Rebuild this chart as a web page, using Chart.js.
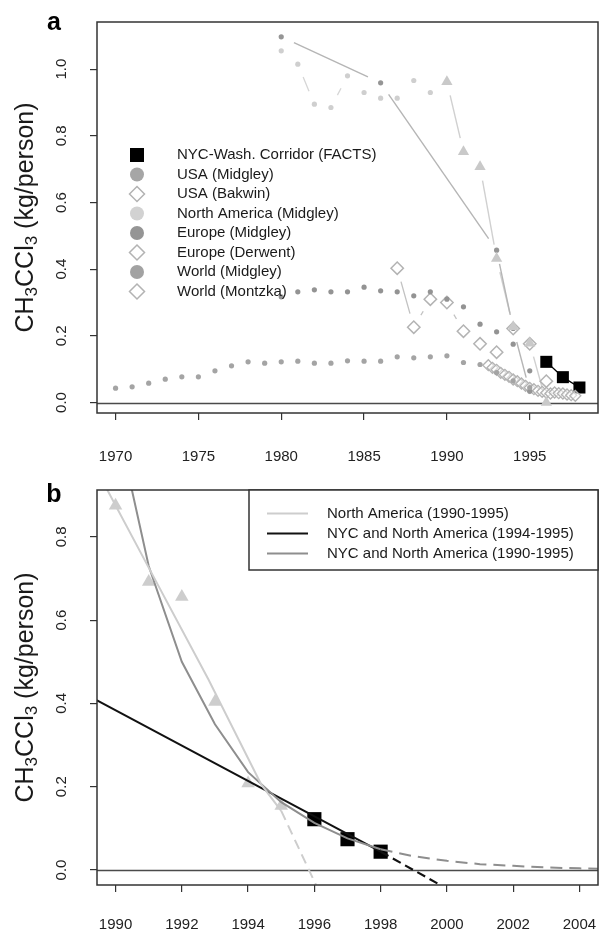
<!DOCTYPE html>
<html><head><meta charset="utf-8">
<script src="https://cdn.jsdelivr.net/npm/chart.js@4.4.0/dist/chart.umd.min.js"></script>
<style>
html,body{margin:0;padding:0;background:#fff;}
#wrap{position:relative;width:600px;height:931px;}
canvas{position:absolute;left:0;}
#ca{top:0;} #cb{top:470px;}
</style></head><body>
<div id="wrap"><canvas id="ca" width="600" height="470"></canvas><canvas id="cb" width="600" height="461"></canvas></div>
<script>
// ---- panel a data (kg/person) ----
const factsYears = [1996, 1997, 1998];
const factsA = [0.122, 0.076, 0.045];
const usaMidgleyYears = [1980, 1986, 1993, 1994, 1995];
const usaMidgley = [1.097, 0.959, 0.457, 0.222, 0.034];
const usaBakwinYears = [1994, 1995, 1996];
const usaBakwin = [0.222, 0.176, 0.064];
const naMidgleyYears = [1980, 1981, 1982, 1983, 1984, 1985, 1986, 1987, 1988, 1989];
const naMidgley = [1.055, 1.015, 0.895, 0.885, 0.98, 0.93, 0.913, 0.913, 0.966, 0.93];
const naTriYears = [1990, 1991, 1992, 1993, 1994, 1995, 1996];
const naTri = [0.962, 0.752, 0.707, 0.432, 0.227, 0.178, 0.0];
const euMidgleyYears = [1980, 1981, 1982, 1983, 1984, 1985, 1986, 1987, 1988, 1989, 1990, 1991, 1992, 1993, 1994, 1995];
const euMidgley = [0.317, 0.332, 0.338, 0.332, 0.332, 0.346, 0.335, 0.332, 0.32, 0.332, 0.31, 0.287, 0.235, 0.212, 0.175, 0.095];
const euDerwentYears = [1987, 1988, 1989, 1990, 1991, 1992, 1993];
const euDerwent = [0.403, 0.226, 0.31, 0.30, 0.214, 0.176, 0.151];
const worldMidgleyYears = [1970, 1971, 1972, 1973, 1974, 1975, 1976, 1977, 1978, 1979, 1980, 1981, 1982,
  1983, 1984, 1985, 1986, 1987, 1988, 1989, 1990, 1991, 1992, 1993, 1994, 1995];
const worldMidgley = [0.043, 0.047, 0.058, 0.07, 0.077, 0.077, 0.095, 0.11, 0.122, 0.118, 0.122, 0.124, 0.118,
  0.118, 0.125, 0.124, 0.124, 0.137, 0.134, 0.137, 0.14, 0.12, 0.114, 0.09, 0.065, 0.045];
const worldMontzkaYears = [1992.5, 1992.75, 1993, 1993.25, 1993.5, 1993.75, 1994, 1994.25, 1994.5, 1994.75, 1995,
  1995.25, 1995.5, 1995.75, 1996, 1996.25, 1996.5, 1996.75, 1997, 1997.25, 1997.5, 1997.75];
const worldMontzka = [0.112, 0.104, 0.098, 0.089, 0.083, 0.077, 0.069, 0.064, 0.057, 0.05, 0.044,
  0.04, 0.035, 0.032, 0.029, 0.027, 0.03, 0.028, 0.027, 0.024, 0.022, 0.02];
const xTicksA = [1970, 1975, 1980, 1985, 1990, 1995];
const yTicksA = [0, 0.2, 0.4, 0.6, 0.8, 1.0];

// ---- panel b data ----
const naYearsB = [1990, 1991, 1992, 1993, 1994, 1995];
const naB = [0.875, 0.692, 0.656, 0.404, 0.208, 0.154];
const factsB = [0.122, 0.074, 0.044];
const naFitYears = [1989.4, 1991.0, 1992.8, 1994.4, 1995.0];
const naFit = [0.965, 0.726, 0.458, 0.205, 0.142];
const naFitDashYears = [1995.0, 1996.05];
const naFitDash = [0.142, -0.036];
const nycShortYears = [1989.4, 1998];
const nycShort = [0.409, 0.044];
const nycShortDashYears = [1998, 1999.8];
const nycShortDash = [0.044, -0.036];
const nycLongYears = [1990, 1991, 1992, 1993, 1994, 1995, 1996, 1997, 1998];
const nycLong = [1.09, 0.73, 0.50, 0.35, 0.235, 0.163, 0.113, 0.076, 0.05];
const nycLongDashYears = [1998, 1999, 2000, 2001, 2002, 2003, 2004, 2004.6];
const nycLongDash = [0.05, 0.033, 0.022, 0.014, 0.010, 0.006, 0.004, 0.003];
const xTicksB = [1990, 1992, 1994, 1996, 1998, 2000, 2002, 2004];
const yTicksB = [0, 0.2, 0.4, 0.6, 0.8];

const FONT = '"Liberation Sans", Arial, Helvetica, sans-serif';
const pts = (xs, ys) => xs.map((x, i) => ({x, y: ys[i]}));

function scatter(label, xs, ys, style, extra) {
  return Object.assign({label, data: pts(xs, ys), showLine: false, pointStyle: style,
    borderWidth: 0, pointBorderWidth: 0}, extra);
}
function line(label, xs, ys, color, width, dash) {
  return {label, data: pts(xs, ys), showLine: true, borderColor: color, borderWidth: width,
    borderDash: dash || [], pointRadius: 0, tension: 0};
}
// R type="b": segments stop short of the points
function gapLine(label, xs, ys, color, width, gap) {
  return {label, data: pts(xs, ys), showLine: false, pointRadius: 0, gapColor: color, gapWidth: width, gap};
}

const gapLines = {
  id: 'gapLines',
  beforeDatasetsDraw(chart) {
    const {ctx, chartArea: a} = chart;
    ctx.save();
    ctx.beginPath(); ctx.rect(a.left, a.top, a.right - a.left, a.bottom - a.top); ctx.clip();
    chart.data.datasets.forEach((ds, i) => {
      if (!ds.gap) return;
      const el = chart.getDatasetMeta(i).data;
      ctx.strokeStyle = ds.gapColor; ctx.lineWidth = ds.gapWidth;
      for (let k = 1; k < el.length; k++) {
        const dx = el[k].x - el[k - 1].x, dy = el[k].y - el[k - 1].y;
        const len = Math.hypot(dx, dy);
        if (len <= 2 * ds.gap) continue;
        const ux = dx / len, uy = dy / len;
        ctx.beginPath();
        ctx.moveTo(el[k - 1].x + ux * ds.gap, el[k - 1].y + uy * ds.gap);
        ctx.lineTo(el[k].x - ux * ds.gap, el[k].y - uy * ds.gap);
        ctx.stroke();
      }
    });
    ctx.restore();
  }
};

const frame = {
  id: 'frame',
  beforeDatasetsDraw(chart) {
    const {ctx, chartArea: a, scales: {y}} = chart;
    const y0 = Math.round(y.getPixelForValue(0)) + 0.5;
    ctx.save();
    ctx.strokeStyle = '#4a4a4a'; ctx.lineWidth = 1.5;
    ctx.beginPath(); ctx.moveTo(a.left, y0); ctx.lineTo(a.right, y0); ctx.stroke();
    ctx.restore();
  },
  afterDraw(chart, args, o) {
    const {ctx, chartArea: a, scales: {y}} = chart;
    ctx.save();
    ctx.strokeStyle = '#333'; ctx.lineWidth = 1.5;
    ctx.strokeRect(a.left, a.top, a.right - a.left, a.bottom - a.top);
    // y tick labels, rotated like R
    ctx.fillStyle = '#222';
    ctx.font = '15px ' + FONT;
    ctx.textAlign = 'center'; ctx.textBaseline = 'middle';
    o.yTicks.forEach(v => {
      ctx.save();
      ctx.translate(62, y.getPixelForValue(v));
      ctx.rotate(-Math.PI / 2);
      ctx.fillText(v.toFixed(1), 0, 0);
      ctx.restore();
    });
    // axis title with subscripts
    const parts = [['CH', 0], ['3', 1], ['CCl', 0], ['3', 1], [' (kg/person)', 0]];
    const big = 25, small = 17;
    ctx.save();
    ctx.translate(27, (a.top + a.bottom) / 2);
    ctx.rotate(-Math.PI / 2);
    ctx.textAlign = 'left'; ctx.textBaseline = 'alphabetic';
    ctx.fillStyle = '#1a1a1a';
    let w = 0;
    parts.forEach(([t, s]) => { ctx.font = (s ? small : big) + 'px ' + FONT; w += ctx.measureText(t).width; });
    let x = -w / 2;
    parts.forEach(([t, s]) => {
      ctx.font = (s ? small : big) + 'px ' + FONT;
      ctx.fillText(t, x, s ? 10 : 6);
      x += ctx.measureText(t).width;
    });
    ctx.restore();
    // panel letter
    ctx.font = 'bold 25px ' + FONT;
    ctx.fillStyle = '#000';
    ctx.textAlign = 'center'; ctx.textBaseline = 'alphabetic';
    ctx.fillText(o.letter, 54, o.letterY);
    // legend
    if (o.legendA) drawLegendA(ctx, o.legendA);
    if (o.legendB) drawLegendB(ctx, o.legendB, a);
    ctx.restore();
  }
};

function marker(ctx, style, x, y, r, fill, stroke) {
  ctx.beginPath();
  if (style === 'rect') ctx.rect(x - r, y - r, 2 * r, 2 * r);
  else if (style === 'circle') ctx.arc(x, y, r, 0, Math.PI * 2);
  else { ctx.moveTo(x, y - r); ctx.lineTo(x + r, y); ctx.lineTo(x, y + r); ctx.lineTo(x - r, y); ctx.closePath(); }
  if (fill) { ctx.fillStyle = fill; ctx.fill(); }
  if (stroke) { ctx.strokeStyle = stroke; ctx.lineWidth = 1.5; ctx.stroke(); }
}

function drawLegendA(ctx, items) {
  ctx.font = '15px ' + FONT;
  ctx.textAlign = 'left'; ctx.textBaseline = 'middle';
  items.forEach((it, i) => {
    const yy = 155 + i * 19.5;
    const r = it.style === 'rect' ? 7 : it.style === 'circle' ? 7 : 7.5;
    marker(ctx, it.style, 137, yy, r, it.fill, it.stroke);
    ctx.fillStyle = '#1a1a1a';
    ctx.fillText(it.label, 177, yy);
  });
}

function drawLegendB(ctx, items, a) {
  ctx.fillStyle = '#fff';
  ctx.fillRect(249, a.top, a.right - 249, 80);
  ctx.strokeStyle = '#333'; ctx.lineWidth = 1.5;
  ctx.strokeRect(249, a.top, a.right - 249, 80);
  ctx.font = '15px ' + FONT;
  ctx.textAlign = 'left'; ctx.textBaseline = 'middle';
  items.forEach((it, i) => {
    const yy = a.top + 23.5 + i * 20;
    ctx.strokeStyle = it.color; ctx.lineWidth = 2;
    ctx.beginPath(); ctx.moveTo(267, yy); ctx.lineTo(308, yy); ctx.stroke();
    ctx.fillStyle = '#1a1a1a';
    ctx.fillText(it.label, 327, yy);
  });
}

function axes(xmin, xmax, ymin, ymax, xTicks, yTicks, xHeight, xPad) {
  const grid = {drawOnChartArea: false, drawTicks: true, tickLength: 7, color: '#333', lineWidth: 1.2};
  return {
    x: {type: 'linear', position: 'bottom', min: xmin, max: xmax, grid, border: {display: false},
      ticks: {font: {size: 15, family: FONT}, color: '#222', padding: xPad, maxRotation: 0, autoSkip: false,
        callback: v => String(v)},
      afterBuildTicks: s => { s.ticks = xTicks.map(value => ({value})); },
      afterFit: s => { s.height = xHeight; s.paddingLeft = 0; s.paddingRight = 0; }},
    y: {type: 'linear', min: ymin, max: ymax, grid, border: {display: false},
      ticks: {display: false},
      afterBuildTicks: s => { s.ticks = yTicks.map(value => ({value})); },
      afterFit: s => { s.width = 97; s.paddingTop = 0; s.paddingBottom = 0; }}
  };
}

const cNa = '#cfcfcf', cEu = '#939393', cWorld = '#a4a4a4', cDia = '#b3b3b3', cTri = '#c9c9c9';

new Chart(document.getElementById('ca'), {
  type: 'scatter',
  data: {datasets: [
    gapLine('NA lines', naMidgleyYears, naMidgley, '#d6d6d6', 1.3, 14),
    gapLine('NA tri lines', naTriYears, naTri, '#d0d0d0', 1.4, 14),
    gapLine('USA lines', usaMidgleyYears, usaMidgley, '#b5b5b5', 1.4, 14),
    gapLine('EU Derwent lines', euDerwentYears, euDerwent, '#c2c2c2', 1.3, 14),
    scatter('World (Midgley)', worldMidgleyYears, worldMidgley, 'circle', {pointRadius: 2.6, backgroundColor: cWorld}),
    scatter('Europe (Midgley)', euMidgleyYears, euMidgley, 'circle', {pointRadius: 2.6, backgroundColor: cEu}),
    scatter('North America (Midgley)', naMidgleyYears, naMidgley, 'circle', {pointRadius: 2.6, backgroundColor: cNa}),
    scatter('NA triangles', naTriYears, naTri, 'triangle', {pointRadius: 6.5, backgroundColor: cTri}),
    scatter('USA (Midgley)', usaMidgleyYears, usaMidgley, 'circle', {pointRadius: 2.6, backgroundColor: '#959595'}),
    scatter('Europe (Derwent)', euDerwentYears, euDerwent, 'rectRot', {pointRadius: 6.2, backgroundColor: '#fff', pointBorderWidth: 1.5, borderColor: cDia}),
    scatter('USA (Bakwin)', usaBakwinYears, usaBakwin, 'rectRot', {pointRadius: 6.2, backgroundColor: 'rgba(255,255,255,0.6)', pointBorderWidth: 1.5, borderColor: cDia}),
    scatter('World (Montzka)', worldMontzkaYears, worldMontzka, 'rectRot', {pointRadius: 5.5, backgroundColor: 'rgba(255,255,255,0.5)', pointBorderWidth: 1.3, borderColor: cDia}),
    line('FACTS line', factsYears, factsA, '#000', 1.3),
    scatter('NYC-Wash. Corridor (FACTS)', factsYears, factsA, 'rect', {pointRadius: 8.5, backgroundColor: '#000'})
  ]},
  options: {
    responsive: false, animation: false, devicePixelRatio: 1,
    layout: {autoPadding: false, padding: {top: 22, right: 2, left: 0, bottom: 0}},
    scales: axes(1968.88, 1999.12, -0.0315, 1.1415, xTicksA, yTicksA, 57, 28),
    plugins: {legend: {display: false}, tooltip: {enabled: false},
      frame: {letter: 'a', letterY: 30, yTicks: yTicksA, legendA: [
        {label: 'NYC-Wash. Corridor (FACTS)', style: 'rect', fill: '#000'},
        {label: 'USA (Midgley)', style: 'circle', fill: '#a6a6a6'},
        {label: 'USA (Bakwin)', style: 'diamond', fill: '#fff', stroke: cDia},
        {label: 'North America (Midgley)', style: 'circle', fill: '#d2d2d2'},
        {label: 'Europe (Midgley)', style: 'circle', fill: '#959595'},
        {label: 'Europe (Derwent)', style: 'diamond', fill: '#fff', stroke: cDia},
        {label: 'World (Midgley)', style: 'circle', fill: '#a2a2a2'},
        {label: 'World (Montzka)', style: 'diamond', fill: '#fff', stroke: cDia}
      ]}}
  },
  plugins: [frame, gapLines]
});

new Chart(document.getElementById('cb'), {
  type: 'scatter',
  data: {datasets: [
    line('North America (1990-1995)', naFitYears, naFit, '#cdcdcd', 2),
    line('NA dash', naFitDashYears, naFitDash, '#cdcdcd', 2, [10, 6]),
    line('NYC and North America (1990-1995)', nycLongYears, nycLong, '#8e8e8e', 2),
    line('gray dash', nycLongDashYears, nycLongDash, '#8e8e8e', 2, [12, 7]),
    line('NYC and North America (1994-1995)', nycShortYears, nycShort, '#111', 2),
    line('black dash', nycShortDashYears, nycShortDash, '#111', 2.2, [9, 5]),
    scatter('NA points', naYearsB, naB, 'triangle', {pointRadius: 7.8, backgroundColor: 'rgba(200,200,200,0.9)'}),
    scatter('FACTS', factsYears, factsB, 'rect', {pointRadius: 10, backgroundColor: '#000'})
  ]},
  options: {
    responsive: false, animation: false, devicePixelRatio: 1,
    layout: {autoPadding: false, padding: {top: 20, right: 2, left: 0, bottom: 0}},
    scales: axes(1989.44, 2004.56, -0.036, 0.9124, xTicksB, yTicksB, 46, 24),
    plugins: {legend: {display: false}, tooltip: {enabled: false},
      frame: {letter: 'b', letterY: 32, yTicks: yTicksB, legendB: [
        {label: 'North America (1990-1995)', color: '#cdcdcd'},
        {label: 'NYC and North America (1994-1995)', color: '#111'},
        {label: 'NYC and North America (1990-1995)', color: '#8e8e8e'}
      ]}}
  },
  plugins: [frame]
});
</script>
</body></html>
